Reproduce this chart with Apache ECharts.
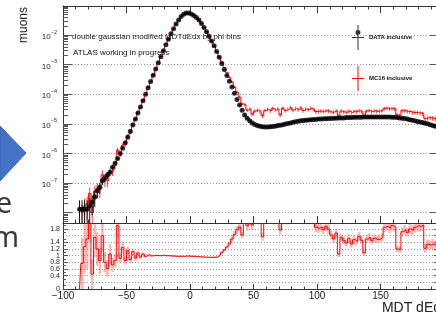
<!DOCTYPE html>
<html><head><meta charset="utf-8">
<script src="https://cdn.jsdelivr.net/npm/echarts@6/dist/echarts.min.js"></script>
<style>html,body{margin:0;padding:0;background:#fff;}#c{width:436px;height:320px;}</style>
</head><body><div id="c"></div>
<script>
// ---- binning (bin centres: binStart + i*binWidth) ----
const binStart = -87, binWidth = 2;

// DATA inclusive (fraction of muons per bin)
const dataVals = [
  1.3e-8,1.3e-8,1.3e-8,1.3e-8,1.7e-8,2.3e-8,3.4e-8,5.5e-8,7.2e-8,1.2e-7,
  1.5e-7,1.9e-7,2.3e-7,3.4e-7,4.7e-7,6.8e-7,1.0e-6,1.5e-6,2.3e-6,3.5e-6,
  5.6e-6,9.1e-6,1.45e-5,2.3e-5,3.7e-5,6.0e-5,1.0e-4,1.66e-4,2.7e-4,4.4e-4,
  7.1e-4,1.15e-3,1.86e-3,2.95e-3,4.7e-3,7.2e-3,1.1e-2,1.62e-2,2.35e-2,3.2e-2,
  4.2e-2,5.0e-2,5.5e-2,5.5e-2,5.1e-2,4.6e-2,3.9e-2,3.2e-2,2.45e-2,1.8e-2,
  1.3e-2,9.1e-3,6.3e-3,4.3e-3,2.8e-3,1.78e-3,1.1e-3,6.8e-4,4.3e-4,2.75e-4,
  1.74e-4,1.07e-4,6.6e-5,4.3e-5,2.9e-5,2.0e-5,1.55e-5,1.26e-5,1.07e-5,9.5e-6,
  8.7e-6,8.3e-6,7.9e-6,7.8e-6,7.8e-6,7.9e-6,8.1e-6,8.3e-6,8.7e-6,8.9e-6,
  9.3e-6,9.8e-6,1.02e-5,1.07e-5,1.12e-5,1.17e-5,1.23e-5,1.26e-5,1.29e-5,1.32e-5,
  1.35e-5,1.38e-5,1.41e-5,1.41e-5,1.45e-5,1.45e-5,1.48e-5,1.48e-5,1.51e-5,1.51e-5,
  1.55e-5,1.55e-5,1.58e-5,1.58e-5,1.58e-5,1.62e-5,1.62e-5,1.62e-5,1.66e-5,1.66e-5,
  1.66e-5,1.66e-5,1.7e-5,1.7e-5,1.7e-5,1.7e-5,1.7e-5,1.7e-5,1.7e-5,1.7e-5,
  1.7e-5,1.7e-5,1.7e-5,1.66e-5,1.66e-5,1.62e-5,1.58e-5,1.55e-5,1.51e-5,1.45e-5,
  1.38e-5,1.32e-5,1.26e-5,1.2e-5,1.15e-5,1.1e-5,1.05e-5,1.0e-5,9.3e-6,8.7e-6,
  8.3e-6,7.9e-6
];
const dataRelErr = [
  1.0,1.0,1.0,1.0,0.8,0.65,0.55,0.45,0.4,0.3,
  0.28,0.25,0.22,0.18,0.15,0.12,0.1,0.08,0.07,0.06,
  0.05,0.04,0.03,0.03,0.02,0.02,0.01,0.01,0.01,0.01,
  0.01,0.01,0.01,0.01,0.01,0.01,0.01,0.01,0.01,0.01,
  0.01,0.01,0.01,0.01,0.01,0.01,0.01,0.01,0.01,0.01,
  0.01,0.01,0.01,0.01,0.01,0.01,0.01,0.01,0.01,0.01,
  0.01,0.01,0.02,0.02,0.02,0.03,0.03,0.03,0.03,0.03,
  0.03,0.03,0.03,0.03,0.03,0.03,0.03,0.03,0.03,0.03,
  0.03,0.03,0.03,0.03,0.03,0.03,0.03,0.03,0.03,0.03,
  0.03,0.03,0.03,0.03,0.03,0.03,0.03,0.03,0.03,0.03,
  0.03,0.03,0.03,0.03,0.03,0.03,0.03,0.03,0.03,0.03,
  0.03,0.03,0.03,0.03,0.03,0.03,0.03,0.03,0.03,0.03,
  0.03,0.03,0.03,0.03,0.03,0.03,0.03,0.03,0.03,0.03,
  0.03,0.03,0.03,0.03,0.03,0.03,0.03,0.03,0.03,0.03,
  0.03,0.03
];

// MC16 inclusive
const mcVals = [
  null,1.0e-8,1.65e-8,2.0e-8,4.4e-8,1.0e-8,5.3e-8,6.6e-8,6.1e-8,1.9e-7,
  1.2e-7,1.2e-7,2.4e-7,2.45e-7,4.0e-7,1.3e-6,9.2e-7,1.9e-6,2.0e-6,4.0e-6,
  4.9e-6,1.02e-5,1.35e-5,2.5e-5,3.55e-5,6.3e-5,9.8e-5,1.71e-4,2.67e-4,4.4e-4,
  7.2e-4,1.15e-3,1.86e-3,2.98e-3,4.7e-3,7.2e-3,1.09e-2,1.6e-2,2.3e-2,3.14e-2,
  4.1e-2,4.9e-2,5.45e-2,5.45e-2,5.0e-2,4.5e-2,3.8e-2,3.1e-2,2.35e-2,1.73e-2,
  1.24e-2,8.6e-3,6.0e-3,4.1e-3,2.7e-3,1.82e-3,1.21e-3,8.0e-4,5.4e-4,3.7e-4,
  2.6e-4,1.75e-4,1.17e-4,8.0e-5,4.7e-5,4.4e-5,2.9e-5,3.2e-5,2.1e-5,2.7e-5,
  2.9e-5,2.6e-5,1.9e-5,2.8e-5,3.1e-5,2.7e-5,3.3e-5,2.9e-5,3.2e-5,2.0e-5,
  3.4e-5,2.8e-5,3.1e-5,3.6e-5,2.9e-5,3.3e-5,3.0e-5,3.5e-5,2.8e-5,3.2e-5,
  3.0e-5,3.4e-5,3.1e-5,2.6e-5,2.65e-5,2.7e-5,2.65e-5,2.8e-5,2.7e-5,2.45e-5,
  2.5e-5,2.8e-5,1.8e-5,2.7e-5,2.5e-5,2.45e-5,2.7e-5,2.4e-5,2.7e-5,2.6e-5,
  2.8e-5,2.6e-5,1.9e-5,2.7e-5,2.8e-5,2.6e-5,2.75e-5,2.65e-5,2.7e-5,2.8e-5,
  3.3e-5,3.4e-5,3.2e-5,3.3e-5,3.2e-5,2.0e-5,1.9e-5,2.8e-5,2.8e-5,2.6e-5,
  2.6e-5,2.4e-5,2.4e-5,2.4e-5,2.3e-5,2.2e-5,1.5e-5,1.6e-5,1.6e-5,1.55e-5,
  1.5e-5,1.5e-5
];
const mcRelErr = [
  0,0.9,0.8,0.7,0.6,0.9,0.5,0.5,0.5,0.4,
  0.4,0.4,0.3,0.3,0.25,0.2,0.2,0.15,0.15,0.12,
  0.1,0.08,0.06,0.05,0.04,0.03,0.02,0.02,0.02,0.01,
  0.01,0.01,0.01,0.01,0.01,0.01,0.01,0.01,0.01,0.01,
  0.01,0.01,0.01,0.01,0.01,0.01,0.01,0.01,0.01,0.01,
  0.01,0.01,0.01,0.01,0.02,0.02,0.03,0.04,0.05,0.06,
  0.07,0.08,0.09,0.1,0.12,0.12,0.15,0.14,0.16,0.15,
  0.15,0.16,0.18,0.15,0.14,0.16,0.15,0.15,0.14,0.17,
  0.14,0.16,0.15,0.14,0.16,0.15,0.15,0.14,0.16,0.15,
  0.15,0.14,0.15,0.16,0.15,0.15,0.14,0.15,0.15,0.16,
  0.15,0.15,0.17,0.15,0.15,0.16,0.15,0.15,0.14,0.15,
  0.15,0.15,0.17,0.15,0.15,0.15,0.14,0.15,0.15,0.15,
  0.14,0.14,0.15,0.14,0.15,0.17,0.17,0.15,0.15,0.15,
  0.15,0.16,0.16,0.16,0.16,0.16,0.19,0.18,0.18,0.18,
  0.18,0.18
];

// ratio MC / DATA
const ratioVals = [
  0,0.77,1.27,1.5,2.6,0.45,1.55,1.2,0.85,1.6,
  0.8,0.62,1.05,0.72,0.85,1.9,0.92,1.25,0.85,1.15,
  0.88,1.12,0.93,1.08,0.96,1.05,0.98,1.03,0.99,1.0,
  1.01,1.0,1.0,1.01,1.0,1.0,0.99,0.99,0.98,0.98,
  0.98,0.98,0.99,0.99,0.98,0.98,0.97,0.97,0.96,0.96,
  0.95,0.95,0.95,0.95,0.96,1.02,1.1,1.17,1.26,1.36,
  1.5,1.64,1.78,1.86,1.62,2.4,1.9,2.6,1.92,2.8,
  3.0,2.7,1.57,2.9,3.1,3.3,3.0,3.2,3.4,1.77,
  3.2,2.9,3.1,3.4,2.8,3.0,2.7,3.1,2.6,2.9,
  2.5,2.7,2.3,1.85,1.82,1.86,1.78,1.88,1.8,1.62,
  1.5,1.68,1.05,1.55,1.45,1.38,1.52,1.35,1.48,1.42,
  1.58,1.46,1.08,1.5,1.55,1.45,1.52,1.48,1.5,1.55,
  1.85,1.88,1.82,1.9,1.86,1.2,1.18,1.72,1.78,1.7,
  1.8,1.76,1.85,1.9,1.88,1.92,1.22,1.34,1.32,1.35,
  1.3,1.33
];
const ratioErr = [
  0,0.77,0.8,0.9,1.2,0.45,0.6,0.5,0.4,0.5,
  0.3,0.25,0.3,0.22,0.2,0.35,0.15,0.18,0.12,0.12,
  0.1,0.1,0.08,0.07,0.06,0.05,0.04,0.03,0.03,0.02,
  0.02,0.02,0.02,0.02,0.02,0.02,0.02,0.02,0.02,0.02,
  0.02,0.02,0.02,0.02,0.02,0.02,0.02,0.02,0.02,0.02,
  0.02,0.02,0.02,0.02,0.02,0.03,0.03,0.04,0.05,0.06,
  0.08,0.1,0.12,0.12,0.1,0.2,0.15,0.2,0.15,0.2,
  0.2,0.2,0.12,0.2,0.2,0.2,0.2,0.2,0.2,0.14,
  0.2,0.2,0.2,0.2,0.2,0.2,0.2,0.2,0.2,0.2,
  0.2,0.2,0.2,0.14,0.14,0.14,0.13,0.14,0.14,0.12,
  0.12,0.13,0.09,0.12,0.11,0.11,0.12,0.11,0.12,0.11,
  0.12,0.11,0.09,0.12,0.12,0.11,0.12,0.11,0.12,0.12,
  0.14,0.14,0.14,0.15,0.14,0.1,0.1,0.14,0.14,0.14,
  0.15,0.15,0.16,0.17,0.17,0.18,0.13,0.14,0.14,0.15,
  0.15,0.15
];

// ---- axis tick definitions ----
const xMajorTicks = [-100, -50, 0, 50, 100, 150];
const xMinorTicks = [-90,-80,-70,-60,-40,-30,-20,-10,10,20,30,40,60,70,80,90,110,120,130,140,160,170,180,190];
const yDecadeExps = [-8, -7, -6, -5, -4, -3, -2];      // grid lines 10^-8 ... 10^-2
const yLabelExps = [-7, -6, -5, -4, -3, -2];          // labelled decades
const ratioTicks = [0, 0.2, 0.4, 0.6, 0.8, 1, 1.2, 1.4, 1.6, 1.8];
const ratioMinorTicks = [0.1, 0.3, 0.5, 0.7, 0.9, 1.1, 1.3, 1.5, 1.7, 1.9];

const X_MIN = -100, X_MAX = 196;
const YU_MIN = -8.35, YU_MAX = -1.02;   // log10 range of the upper pad
const YL_MIN = 0, YL_MAX = 1.95;

const FONT = '"Liberation Sans", Arial, Helvetica, sans-serif';
const AX = '#333';

const L = Math.log10;
const xs = dataVals.map((_, i) => binStart + i * binWidth);
const half = binWidth / 2;

// minor log ticks (2..9 x 10^n)
const yMinorExps = [];
for (let n = -9; n <= -2; n++) for (let k = 2; k <= 9; k++) {
  const e = n + L(k); if (e > YU_MIN && e < YU_MAX) yMinorExps.push(e);
}

const clampU = e => Math.min(YU_MAX, Math.max(YU_MIN, e));
const dataPts = dataVals.map((v, i) => [xs[i], L(v)]);
const dataErrPts = dataVals.map((v, i) => {
  const e = v * dataRelErr[i];
  const lo = v - e > 0 ? L(v - e) : YU_MIN;
  return [xs[i], clampU(lo), clampU(L(v + e)), L(v)];
});
const mcPts = mcVals.map((v, i) => [xs[i], v == null ? null : L(v)]);
const mcErrPts = mcVals.map((v, i) => {
  if (v == null) return [xs[i], null, null, null];
  const e = v * mcRelErr[i];
  const lo = v - e > 0 ? L(v - e) : YU_MIN;
  return [xs[i], clampU(lo), clampU(L(v + e)), L(v)];
}).filter(p => p[1] != null);
const ratioPts = ratioVals.map((v, i) => [xs[i], v]);
const ratioErrPts = ratioVals.map((v, i) => [xs[i], Math.max(YL_MIN, v - ratioErr[i]), Math.min(YL_MAX, v + ratioErr[i])]);

function errBars(color, withH) {
  return function (params, api) {
    const x = api.value(0), lo = api.value(1), hi = api.value(2), c = api.value(3);
    const a = api.coord([x, lo]), b = api.coord([x, hi]);
    const ch = [{ type: 'line', shape: { x1: a[0], y1: a[1], x2: b[0], y2: b[1] }, style: { stroke: color, lineWidth: 1 } }];
    if (withH) {
      const l = api.coord([x - half, c]), r = api.coord([x + half, c]);
      ch.push({ type: 'line', shape: { x1: l[0], y1: l[1], x2: r[0], y2: r[1] }, style: { stroke: color, lineWidth: 1 } });
    }
    return { type: 'group', children: ch };
  };
}
function ratioBand(params, api) {
  const x = api.value(0), lo = api.value(1), hi = api.value(2);
  if (lo >= hi) return null;
  const a = api.coord([x - half, hi]), b = api.coord([x + half, lo]);
  return { type: 'rect', shape: { x: a[0], y: a[1], width: b[0] - a[0], height: b[1] - a[1] }, style: { fill: 'rgba(255,80,80,0.42)' } };
}

function xAx(grid, position, ticks, len, showLine, labels) {
  return {
    type: 'value', gridIndex: grid, position, min: X_MIN, max: X_MAX,
    axisLine: { show: showLine, onZero: false, lineStyle: { color: AX, width: 1 } },
    axisTick: { show: true, inside: true, length: len, customValues: ticks, lineStyle: { color: AX, width: 1 } },
    axisLabel: labels ? {
      show: true, customValues: xMajorTicks, fontSize: 10, color: '#222', fontFamily: FONT, margin: 2,
      showMinLabel: true, hideOverlap: false,
      formatter: v => String(v).replace('-', '\u2212')
    } : { show: false },
    splitLine: { show: false }
  };
}
function yAx(grid, position, min, max, ticks, len, showLine, extra) {
  return Object.assign({
    type: 'value', gridIndex: grid, position, min, max,
    axisLine: { show: showLine, onZero: false, lineStyle: { color: AX, width: 1 } },
    axisTick: { show: true, inside: true, length: len, customValues: ticks, lineStyle: { color: '#555', width: 1 } },
    axisLabel: { show: false },
    splitLine: { show: false }
  }, extra || {});
}

const xAxes = [
  xAx(0, 'bottom', xMajorTicks, 7, true, false),
  xAx(0, 'bottom', xMinorTicks, 3.5, false, false),
  xAx(0, 'top', xMajorTicks, 7, true, false),
  xAx(0, 'top', xMinorTicks, 3.5, false, false),
  xAx(1, 'bottom', xMajorTicks, 5, true, true),
  xAx(1, 'bottom', xMinorTicks, 2.5, false, false)
];
xAxes[4].name = 'MDT dEdx';
xAxes[4].nameLocation = 'end';
xAxes[4].nameGap = 9;
xAxes[4].nameTextStyle = { fontSize: 14, color: '#222', fontFamily: FONT, align: 'right', verticalAlign: 'top', padding: [12, 0, 0, 0] };

const yAxes = [
  yAx(0, 'left', YU_MIN, YU_MAX, yDecadeExps, 9, true, {
    axisLabel: {
      show: true, customValues: yLabelExps, margin: 6, color: '#222', hideOverlap: false,
      formatter: v => '{b|10}{s|' + (v < 0 ? '\u2212' : '') + Math.abs(Math.round(v)) + '}',
      rich: {
        b: { fontSize: 8, fontFamily: FONT, color: '#222', verticalAlign: 'bottom', lineHeight: 12 },
        s: { fontSize: 5.5, fontFamily: FONT, color: '#222', verticalAlign: 'top', lineHeight: 12 }
      }
    },
    splitLine: { show: true, lineStyle: { color: '#9a9a9a', width: 1, type: [1, 2] } },
    name: 'muons', nameLocation: 'end', nameRotate: 90, nameGap: -1,
    nameTextStyle: { fontSize: 12, color: '#222', fontFamily: FONT, align: 'right', verticalAlign: 'bottom', padding: [0, 0, 33, 0] }
  }),
  yAx(0, 'left', YU_MIN, YU_MAX, yMinorExps, 5, false),
  yAx(0, 'right', YU_MIN, YU_MAX, yDecadeExps, 9, true),
  yAx(1, 'left', YL_MIN, YL_MAX, ratioTicks, 5, true, {
    axisLabel: { show: true, customValues: ratioTicks, margin: 3, fontSize: 7, color: '#222', fontFamily: FONT,
      showMinLabel: true, showMaxLabel: true, hideOverlap: false },
    splitLine: { show: true, lineStyle: { color: '#9a9a9a', width: 1, type: [1, 2] } }
  }),
  yAx(1, 'left', YL_MIN, YL_MAX, ratioMinorTicks, 3, false),
  yAx(1, 'right', YL_MIN, YL_MAX, ratioTicks, 5, true)
];

const dataIcon = 'path://M5.5,0h1v25h-1zM0,12h12v1h-12zM6,10a2.5,2.5 0 1,1 0.01,0z';
const mcIcon = 'path://M5.5,0h1v25h-1zM0,12h12v1h-12z';

const chart = echarts.init(document.getElementById('c'), null, { renderer: 'canvas' });
chart.setOption({
  animation: false,
  backgroundColor: '#fff',
  textStyle: { fontFamily: FONT },
  grid: [
    { left: 63, top: 6, width: 376, height: 217, containLabel: false, outerBoundsMode: 'none' },
    { left: 63, top: 224, width: 376, height: 65, containLabel: false, outerBoundsMode: 'none' }
  ],
  title: [
    { text: 'double gaussian modified MDTdEdx by phi bins', left: 72, top: 33, padding: 0,
      textStyle: { fontSize: 8, fontWeight: 'normal', color: '#222', fontFamily: FONT } },
    { text: 'ATLAS working in progress', left: 73, top: 49, padding: 0,
      textStyle: { fontSize: 8, fontWeight: 'normal', color: '#111', fontFamily: FONT } }
  ],
  legend: {
    orient: 'vertical', left: 352, top: 25, itemWidth: 12, itemHeight: 25, itemGap: 16, padding: 0,
    selectedMode: false,
    textStyle: { fontSize: 6, fontWeight: 'bold', color: '#111', fontFamily: FONT },
    data: [{ name: 'DATA inclusive', icon: dataIcon }, { name: 'MC16 inclusive', icon: mcIcon }]
  },
  xAxis: xAxes,
  yAxis: yAxes,
  graphic: [
    { type: 'polygon', shape: { points: [[0, 126], [26, 153], [0, 181]] },
      style: { fill: '#4472C4', stroke: '#3b64b0', lineWidth: 1 } },
    { type: 'text', x: 12, y: 205, style: { text: 'e', font: '29px "Noto Sans"', fill: '#3a3a3a', align: 'right', verticalAlign: 'middle' } },
    { type: 'text', x: 19, y: 239, style: { text: 'm', font: '29px "Noto Sans"', fill: '#3a3a3a', align: 'right', verticalAlign: 'middle' } }
  ],
  series: [
    { type: 'custom', name: 'MC16 errors', xAxisIndex: 0, yAxisIndex: 0, renderItem: errBars('rgba(255,0,0,0.75)', false),
      data: mcErrPts, clip: true, silent: true, z: 2 },
    { type: 'line', name: 'MC16 inclusive', xAxisIndex: 0, yAxisIndex: 0, data: mcPts, step: 'middle', showSymbol: false,
      symbol: 'none', color: '#ff0000', lineStyle: { color: '#ff0000', width: 1 }, clip: true, z: 3 },
    { type: 'custom', name: 'DATA errors', xAxisIndex: 0, yAxisIndex: 0, renderItem: errBars('#111', true),
      data: dataErrPts, clip: true, silent: true, z: 4 },
    { type: 'scatter', name: 'DATA inclusive', xAxisIndex: 0, yAxisIndex: 0, data: dataPts, symbol: 'circle', symbolSize: 5,
      color: '#000', itemStyle: { color: '#000' }, clip: true, z: 5 },
    { type: 'custom', name: 'ratio errors', xAxisIndex: 4, yAxisIndex: 3, renderItem: ratioBand,
      data: ratioErrPts, clip: true, silent: true, z: 2 },
    { type: 'line', name: 'ratio', xAxisIndex: 4, yAxisIndex: 3, data: ratioPts, step: 'middle', showSymbol: false,
      symbol: 'none', lineStyle: { color: '#ff0000', width: 1 }, clip: true, z: 3 }
  ]
});
</script>
</body></html>
